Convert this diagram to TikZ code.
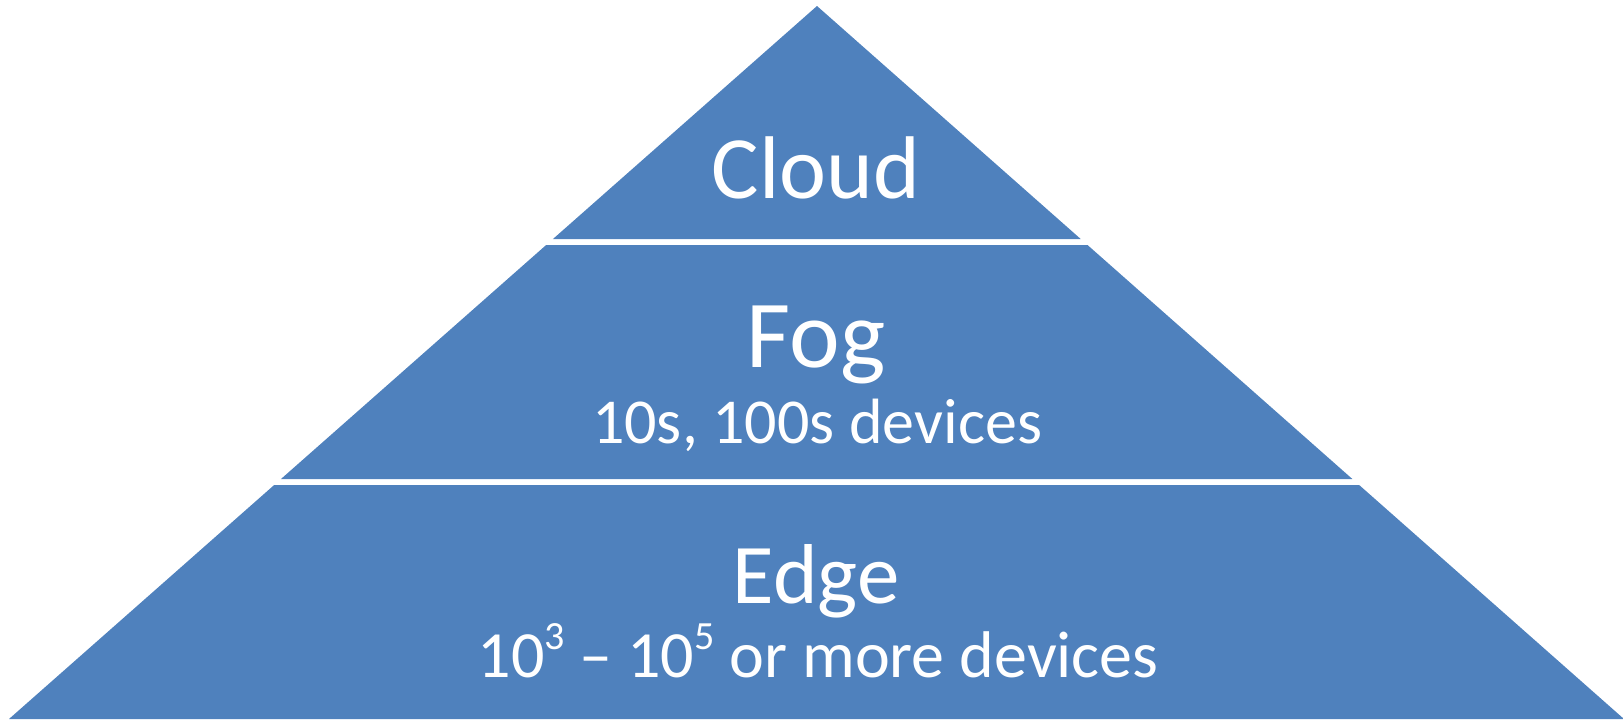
\documentclass[tikz,border=0pt]{standalone}
\usepackage{fontspec}
\setmainfont{Carlito}
\usetikzlibrary{calc}
\definecolor{tierblue}{RGB}{79,129,189}
\newcommand\supnum[1]{\raisebox{0.42em}{\fontsize{20}{20}\selectfont #1}}
\begin{document}
\begin{tikzpicture}[x=0.5pt,y=-0.5pt,
  tier/.style={fill=tierblue,draw=none},
  tiertext/.style={text=white,anchor=base,inner sep=0pt}]
\useasboundingbox (0,0) rectangle (1623,719);
\coordinate (apex) at (817,6);
\coordinate (bl) at (9,719);
\coordinate (br) at (1624,719);

% cloud tier
\fill[tier] (apex) -- ($(apex)!0.3268!(br)$) -- ($(apex)!0.3268!(bl)$) -- cycle;
% fog tier
\fill[tier] ($(apex)!0.3352!(bl)$) -- ($(apex)!0.3352!(br)$)
  -- ($(apex)!0.6634!(br)$) -- ($(apex)!0.6634!(bl)$) -- cycle;
% edge tier
\fill[tier] ($(apex)!0.6718!(bl)$) -- ($(apex)!0.6718!(br)$) -- (br) -- (bl) -- cycle;

\node[tiertext,font=\fontsize{44.5}{53}\selectfont] (cloud) at (816,198) {Cloud};
\node[tiertext,font=\fontsize{48}{57}\selectfont] (fog) at (816,367) {Fog};
\node[tiertext,font=\fontsize{32}{38}\selectfont] (fogsub) at (817,443) {10s, 100s devices};
\node[tiertext,font=\fontsize{42.5}{51}\selectfont] (edge) at (816,603) {Edge};
\node[tiertext,font=\fontsize{33}{40}\selectfont] (edgesub) at (818,677)
  {10\supnum{3} – 10\supnum{5} or more devices};
\end{tikzpicture}
\end{document}
